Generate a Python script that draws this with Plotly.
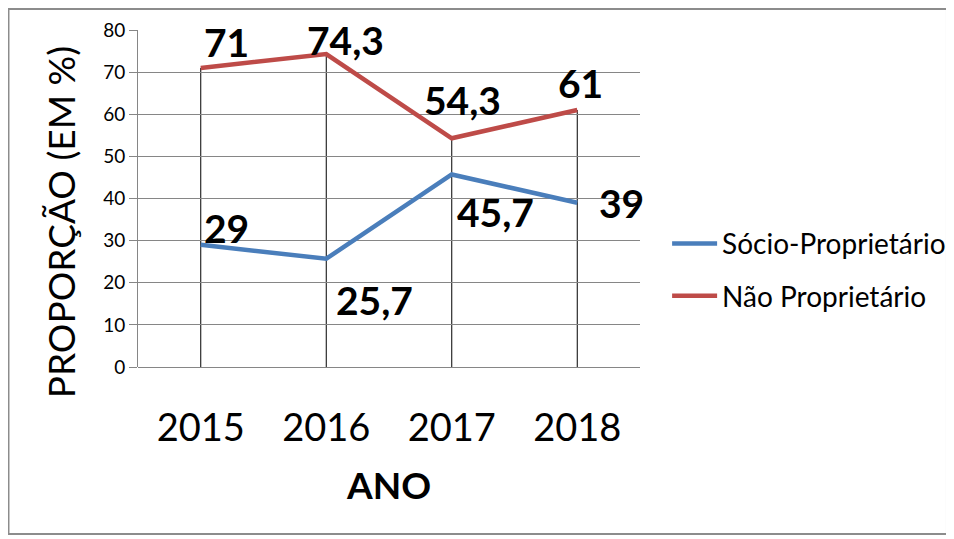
import plotly.graph_objects as go

years = ["2015", "2016", "2017", "2018"]
socio = [29, 25.7, 45.7, 39]
nao = [71, 74.3, 54.3, 61]
series_names = ["Sócio-Proprietário", "Não Proprietário"]
colors = ["#4A7EBB", "#BE4B48"]

# label offsets in pixels (xshift, yshift)
socio_off = [(26, 17), (48, -41), (44, -38), (44, 0)]
nao_off = [(26, 26), (19, 14), (11, 38), (3, 27)]

FONT = "Lato"

def fmt(v):
    return ("%g" % v).replace(".", ",")

fig = go.Figure()

# drop lines from 0 to the highest value of each year
for i, yr in enumerate(years):
    top = max(socio[i], nao[i])
    fig.add_shape(type="line", xref="x", yref="y", x0=i, x1=i, y0=0, y1=top,
                  line=dict(color="#000000", width=1), layer="below")

for name, vals, col, grp in [(series_names[0], socio, colors[0], "a"),
                              (series_names[1], nao, colors[1], "b")]:
    fig.add_trace(go.Scatter(x=list(range(len(years))), y=vals, mode="lines", name=name,
                             line=dict(color=col, width=4.5), legendgroup=grp))

for vals, offs in [(socio, socio_off), (nao, nao_off)]:
    for i, v in enumerate(vals):
        fig.add_annotation(x=i, y=v, xref="x", yref="y", text="<b>%s</b>" % fmt(v),
                           showarrow=False, xshift=offs[i][0], yshift=offs[i][1],
                           font=dict(family=FONT, size=39, color="#000000"))

fig.add_annotation(text="PROPORÇÃO (EM %)", xref="paper", yref="paper",
                   x=-0.155, y=0.43, xanchor="center", yanchor="middle",
                   textangle=-90, showarrow=False,
                   font=dict(family=FONT, size=37, color="#000000"))

# outer chart border
fig.add_shape(type="rect", xref="paper", yref="paper", x0=-0.258, x1=1.6115,
              y0=-0.4955, y1=1.0623, line=dict(color="#8C8C8C", width=2))

fig.update_layout(
    width=946, height=531,
    margin=dict(l=130, r=314, t=22, b=172, autoexpand=False),
    paper_bgcolor="white", plot_bgcolor="white",
    font=dict(family=FONT, color="#000000"),
    showlegend=True,
    legend=dict(x=1.054, y=0.44, xanchor="left", yanchor="top",
                font=dict(family=FONT, size=28, color="#000000"),
                itemwidth=45, tracegroupgap=13, bgcolor="rgba(0,0,0,0)"),
    xaxis=dict(tickmode="array", tickvals=list(range(len(years))), ticktext=years,
               range=[-0.5, 3.5], showgrid=False, zeroline=False, showline=False,
               ticks="", tickfont=dict(family=FONT, size=38, color="#000000"),
               ticklabelstandoff=35,
               title=dict(text="<b>ANO</b>", font=dict(family=FONT, size=37, color="#000000"),
                          standoff=25)),
    yaxis=dict(range=[0, 80], dtick=10, showgrid=True, gridcolor="#868686", gridwidth=1,
               zeroline=True, zerolinecolor="#868686", zerolinewidth=1,
               showline=True, linecolor="#868686", linewidth=1,
               ticks="outside", ticklen=8, tickcolor="#868686",
               tickfont=dict(family=FONT, size=19, color="#000000")),
)

fig.write_html("out.html")
